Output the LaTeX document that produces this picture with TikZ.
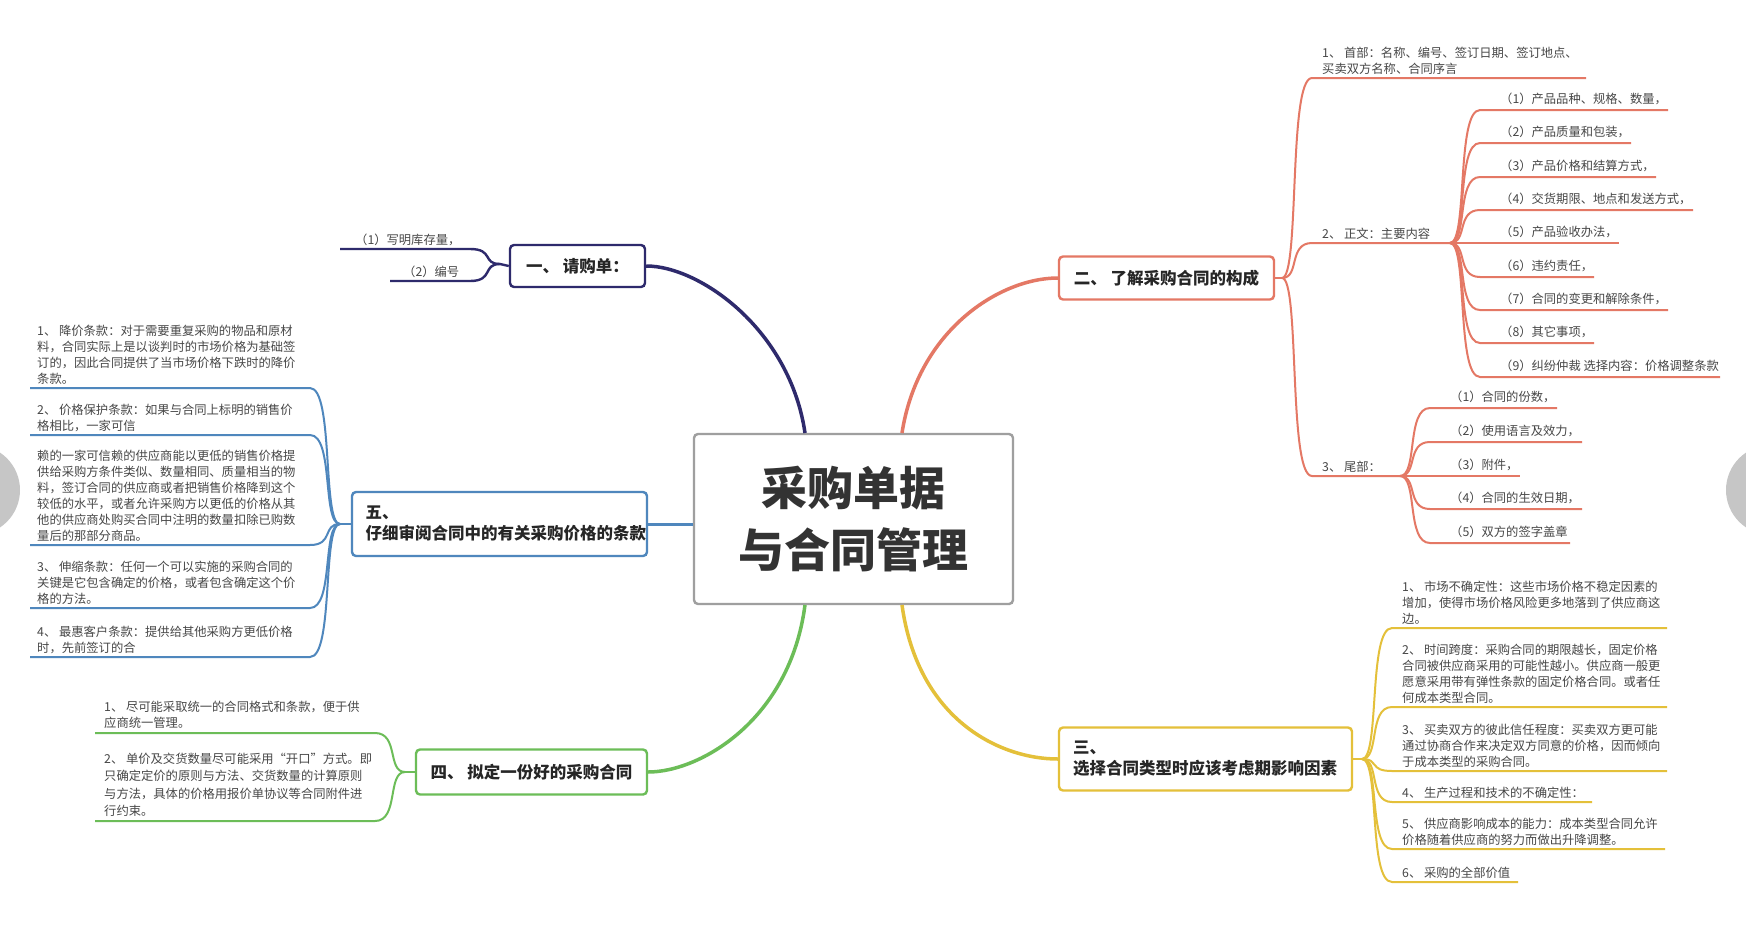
\documentclass[tikz,border=0pt]{standalone}
\usepackage{fontspec}
\setmainfont{Noto Sans CJK SC}
\begin{document}
\begin{tikzpicture}[x=1pt,y=-1pt,
  leaf/.style={font=\fontsize{12.3}{16}\selectfont, inner sep=0pt, anchor=south west, align=left, text=black!72},
  topic/.style={draw=#1, line width=2.4pt, rounded corners=4pt, fill=white, font=\fontsize{16.5}{21}\bfseries, text=black!85, align=left, inner xsep=12pt},
  cN/.style={draw=navyc, line width=2.4pt},
  cR/.style={draw=salm, line width=2pt},
  cB/.style={draw=bluec, line width=2pt},
  cG/.style={draw=greenc, line width=2pt},
  cY/.style={draw=yellc, line width=2pt}]
\definecolor{navyc}{HTML}{2E2A6C}
\definecolor{salm}{HTML}{E47865}
\definecolor{bluec}{HTML}{4F87BD}
\definecolor{greenc}{HTML}{6CBD58}
\definecolor{yellc}{HTML}{E4C03A}
\newcommand{\rline}[5]{\draw[#1] (#2,#3) .. controls (#2+18,#3) and (#2+6,#4) .. (#2+30,#4) -- (#5,#4);}
\newcommand{\lline}[5]{\draw[#1] (#2,#3) .. controls (#2-18,#3) and (#2-6,#4) .. (#2-30,#4) -- (#5,#4);}
\useasboundingbox (0,0) rectangle (1746,924);
\fill[white] (0,0) rectangle (1746,924);
\fill[gray!45] (-25,490) circle (45);
\fill[gray!45] (1771,490) circle (45);

% center
\node[draw=gray!75, line width=2.4pt, rounded corners=4pt, minimum width=319pt, minimum height=170pt, fill=white,
  font=\fontsize{46}{62}\bfseries, text=black!80, align=center] (c) at (853.5,519) {采购单据\\与合同管理};

% topics
\node[topic=navyc, minimum width=135pt, minimum height=42pt] (n1) at (577.5,266) {一、 请购单：};
\node[topic=salm, minimum width=215pt, minimum height=43pt] (n2) at (1166.5,278) {二、 了解采购合同的构成};
\node[topic=yellc, minimum width=293pt, minimum height=63pt, text width=265pt] (n3) at (1205.5,759) {三、 选择合同类型时应该考虑期影响因素};
\node[topic=greenc, minimum width=231pt, minimum height=45pt] (n4) at (531.5,772) {四、 拟定一份好的采购合同};
\node[topic=bluec, minimum width=295pt, minimum height=64pt, text width=268pt] (n5) at (499.5,524) {五、 仔细审阅合同中的有关采购价格的条款};

% main branches
\draw[navyc, line width=3.5pt] (805,433) .. controls (790,330) and (700,266) .. (n1.east);
\draw[salm, line width=3.5pt] (902,433) .. controls (918,330) and (1000,278) .. (n2.west);
\draw[yellc, line width=3.5pt] (902,605) .. controls (918,720) and (1000,759) .. (n3.west);
\draw[greenc, line width=3.5pt] (805,605) .. controls (790,720) and (700,772) .. (n4.east);
\draw[bluec, line width=3pt] (c.west |- n5.east) -- (n5.east);

% ===== navy leaves
\coordinate (f1) at (500,264);
\draw[cN] (n1.west) -- (f1);
\lline{cN}{500}{264}{249}{340}
\lline{cN}{500}{264}{281}{390}
\node[leaf] (a1) at (355,246) {（1）写明库存量，};
\node[leaf] (a2) at (403,278) {（2）编号};

% ===== salmon
\coordinate (f2) at (1282,278);
\draw[cR] (n2.east) -- (f2);
\rline{cR}{1282}{278}{78}{1586}
\rline{cR}{1282}{278}{243}{1450}
\rline{cR}{1282}{278}{476}{1400}
\node[leaf] (b1) at (1322,75) {1、 首部：名称、编号、签订日期、签订地点、\\买卖双方名称、合同序言};
\node[leaf] (b2) at (1322,240) {2、 正文：主要内容};
\node[leaf] (b3) at (1322,473) {3、 尾部：};
\coordinate (f22) at (1450,243);
\foreach \y/\e/\t in {110/1668/（1）产品品种、规格、数量，, 143/1631/（2）产品质量和包装，, 177/1656/（3）产品价格和结算方式，, 210/1693/（4）交货期限、地点和发送方式，, 243/1619/（5）产品验收办法，, 277/1594/（6）违约责任，, 310/1668/（7）合同的变更和解除条件，, 343/1594/（8）其它事项，, 377/1720/（9）纠纷仲裁 选择内容：价格调整条款}{
  \rline{cR}{1450}{243}{\y}{\e}
  \node[leaf] at (1500,\y-5) {\t};
}
\coordinate (f23) at (1400,476);
\foreach \y/\e/\t in {408/1557/（1）合同的份数，, 442/1582/（2）使用语言及效力，, 476/1520/（3）附件，, 509/1582/（4）合同的生效日期，, 543/1570/（5）双方的签字盖章}{
  \rline{cR}{1400}{476}{\y}{\e}
  \node[leaf] at (1450,\y-5) {\t};
}

% ===== yellow
\coordinate (f3) at (1362,759);
\draw[cY] (n3.east) -- (f3);
\foreach \y/\e in {628/1667, 707/1667, 771/1667, 802/1592, 849/1665, 882/1518}{
  \rline{cY}{1362}{759}{\y}{\e}
}
\node[leaf] (y1) at (1402,625) {1、 市场不确定性：这些市场价格不稳定因素的\\增加，使得市场价格风险更多地落到了供应商这\\边。};
\node[leaf] (y2) at (1402,704) {2、 时间跨度：采购合同的期限越长，固定价格\\合同被供应商采用的可能性越小。供应商一般更\\愿意采用带有弹性条款的固定价格合同。或者任\\何成本类型合同。};
\node[leaf] (y3) at (1402,768) {3、 买卖双方的彼此信任程度：买卖双方更可能\\通过协商合作来决定双方同意的价格，因而倾向\\于成本类型的采购合同。};
\node[leaf] (y4) at (1402,799) {4、 生产过程和技术的不确定性：};
\node[leaf] (y5) at (1402,846) {5、 供应商影响成本的能力：成本类型合同允许\\价格随着供应商的努力而做出升降调整。};
\node[leaf] (y6) at (1402,879) {6、 采购的全部价值};

% ===== blue
\coordinate (f5) at (340,524);
\draw[cB] (n5.west) -- (f5);
\foreach \y in {388,435,545,608,657}{
  \lline{cB}{340}{524}{\y}{30}
}
\node[leaf] (p1) at (37,385) {1、 降价条款：对于需要重复采购的物品和原材\\料，合同实际上是以谈判时的市场价格为基础签\\订的，因此合同提供了当市场价格下跌时的降价\\条款。};
\node[leaf] (p2) at (37,432) {2、 价格保护条款：如果与合同上标明的销售价\\格相比，一家可信};
\node[leaf] (p3) at (37,542) {赖的一家可信赖的供应商能以更低的销售价格提\\供给采购方条件类似、数量相同、质量相当的物\\料，签订合同的供应商或者把销售价格降到这个\\较低的水平，或者允许采购方以更低的价格从其\\他的供应商处购买合同中注明的数量扣除已购数\\量后的那部分商品。};
\node[leaf] (p4) at (37,605) {3、 伸缩条款：任何一个可以实施的采购合同的\\关键是它包含确定的价格，或者包含确定这个价\\格的方法。};
\node[leaf] (p5) at (37,654) {4、 最惠客户条款：提供给其他采购方更低价格\\时，先前签订的合};

% ===== green
\coordinate (f4) at (405,772);
\draw[cG] (n4.west) -- (f4);
\lline{cG}{405}{772}{733}{95}
\lline{cG}{405}{772}{821}{95}
\node[leaf] (g1) at (104,729) {1、 尽可能采取统一的合同格式和条款，便于供\\应商统一管理。};
\node[leaf, font=\fontsize{12.3}{17.5}\selectfont] (g2) at (104,817) {2、 单价及交货数量尽可能采用“开口”方式。即\\只确定定价的原则与方法、交货数量的计算原则\\与方法，具体的价格用报价单协议等合同附件进\\行约束。};
\end{tikzpicture}
\end{document}
